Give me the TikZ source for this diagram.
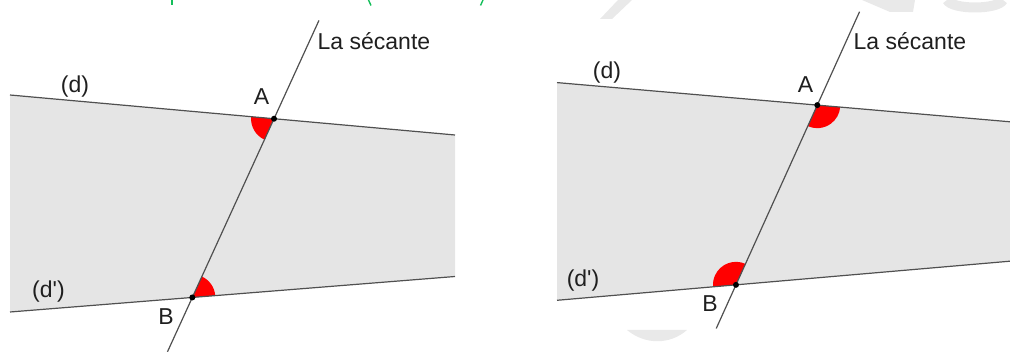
\documentclass[tikz,border=0pt]{standalone}
\usepackage{fontspec}
\setmainfont{Liberation Sans}
\usetikzlibrary{calc,angles}
\definecolor{regfill}{RGB}{229,229,229}
\definecolor{ln}{RGB}{80,80,80}
\definecolor{grn}{RGB}{20,190,90}
\definecolor{wm}{RGB}{233,233,233}
\tikzset{
  lineD/.style={draw=ln, line width=1.2pt},
  ptdot/.style={circle, fill=black, inner sep=0pt, minimum size=6pt},
  lbl/.style={inner sep=0pt, font=\fontsize{23}{27}\selectfont, text=black!88},
  sector/.style={fill=red, draw=none, angle radius=23pt},
  greenmark/.style={draw=grn, line width=1.4pt},
  wmark/.style={fill=wm, draw=none},
}
\begin{document}
\begin{tikzpicture}[x=1pt,y=1pt]
\useasboundingbox (0,0) rectangle (1010,352);
% ---------- faint watermark pieces ----------
\fill[wmark] (862,352) -- (915,352) -- (913,340) -- (890,340) -- cycle;
\draw[draw=wm, line width=10pt] (947,352) .. controls (952,342) and (998,342) .. (1003,352);
\fill[wmark] (600,333) -- (612,333) -- (632,352) -- (618,352) -- cycle;
\fill[wmark] (627,22) .. controls (645,7) and (670,7) .. (687,22) -- cycle;
% ---------- left figure ----------
\coordinate (L1) at (10,257);
\coordinate (L2) at (455,217);
\coordinate (M1) at (10,40);
\coordinate (M2) at (455,75.5);
\coordinate (A) at ($(L1)!0.5933!(L2)$);
\coordinate (B) at ($(M1)!0.4097!(M2)$);
\coordinate (Stop) at ($(B)!1.55!(A)$);
\coordinate (Sbot) at ($(B)!-0.304!(A)$);
\fill[regfill] (L1) -- (L2) -- (M2) -- (M1) -- cycle;
\pic[sector] {angle = L1--A--B};
\pic[sector] {angle = M2--B--A};
\draw[lineD] (L1) -- (L2);
\draw[lineD] (M1) -- (M2);
\draw[lineD] (Sbot) -- (Stop);
\node[ptdot] (pA) at (A) {};
\node[ptdot] (pB) at (B) {};
\node[lbl] (ld) at (75,265) {(d)};
\node[lbl] (ldp) at (48.5,60) {(d\textquotesingle)};
\node[lbl] (lA) at (261.5,255.5) {A};
\node[lbl] (lB) at (166,35.5) {B};
\node[lbl, anchor=base west] (lS) at (317.5,302) {La sécante};
% ---------- right figure ----------
\coordinate (R1) at (557,269.4);
\coordinate (R2) at (1010,230.2);
\coordinate (T1) at (557,51.7);
\coordinate (T2) at (1010,90.8);
\coordinate (A2) at ($(R1)!0.5746!(R2)$);
\coordinate (B2) at ($(T1)!0.3951!(T2)$);
\coordinate (Utop) at ($(B2)!1.5196!(A2)$);
\coordinate (Ubot) at ($(B2)!-0.2428!(A2)$);
\fill[regfill] (R1) -- (R2) -- (T2) -- (T1) -- cycle;
\pic[sector] {angle = B2--A2--R2};
\pic[sector] {angle = A2--B2--T1};
\draw[lineD] (R1) -- (R2);
\draw[lineD] (T1) -- (T2);
\draw[lineD] (Ubot) -- (Utop);
\node[ptdot] (pA2) at (A2) {};
\node[ptdot] (pB2) at (B2) {};
\node[lbl] (rd) at (607,279) {(d)};
\node[lbl] (rdp) at (583,71) {(d\textquotesingle)};
\node[lbl] (rA) at (805.5,267) {A};
\node[lbl] (rB) at (710,48.5) {B};
\node[lbl, anchor=base west] (rS) at (853.5,302) {La sécante};
% ---------- green fragments at the top edge ----------
\draw[greenmark] (172,352) -- (172,346.5);
\draw[greenmark] (368.5,352) .. controls (369,349) .. (371,346.5);
\draw[greenmark] (483,352) .. controls (482.5,349) .. (480.5,346.5);
\end{tikzpicture}
\end{document}
